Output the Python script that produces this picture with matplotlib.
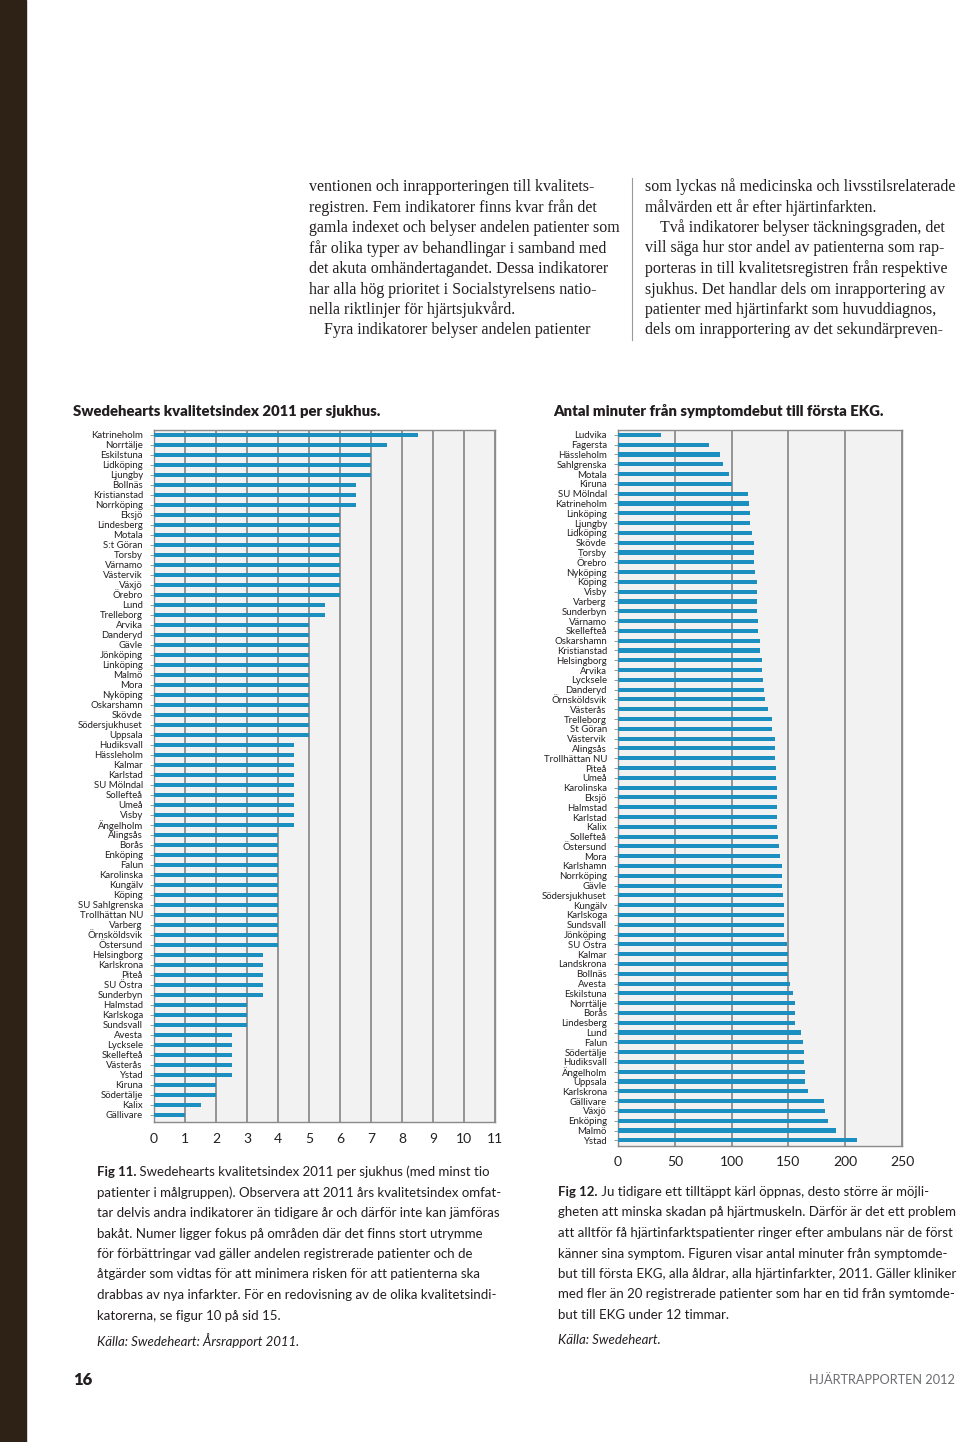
"""Page 16 of Hjärtrapporten 2012: two hospital bar charts with body text and captions."""

import matplotlib.pyplot as plt
from matplotlib.lines import Line2D
from matplotlib.patches import Rectangle

W, H = 960, 1442

# Fig 11 - Swedehearts kvalitetsindex 2011 per sjukhus
idx_names = [
    "Katrineholm", "Norrtälje", "Eskilstuna", "Lidköping", "Ljungby", "Bollnäs",
    "Kristianstad", "Norrköping", "Eksjö", "Lindesberg", "Motala", "S:t Göran",
    "Torsby", "Värnamo", "Västervik", "Växjö", "Örebro", "Lund", "Trelleborg",
    "Arvika", "Danderyd", "Gävle", "Jönköping", "Linköping", "Malmö", "Mora",
    "Nyköping", "Oskarshamn", "Skövde", "Södersjukhuset", "Uppsala", "Hudiksvall",
    "Hässleholm", "Kalmar", "Karlstad", "SU Mölndal", "Sollefteå", "Umeå", "Visby",
    "Ängelholm", "Alingsås", "Borås", "Enköping", "Falun", "Karolinska", "Kungälv",
    "Köping", "SU Sahlgrenska", "Trollhättan NU", "Varberg", "Örnsköldsvik",
    "Östersund", "Helsingborg", "Karlskrona", "Piteå", "SU Östra", "Sunderbyn",
    "Halmstad", "Karlskoga", "Sundsvall", "Avesta", "Lycksele", "Skellefteå",
    "Västerås", "Ystad", "Kiruna", "Södertälje", "Kalix", "Gällivare",
]
idx_values = [
    8.5, 7.5, 7, 7, 7, 6.5, 6.5, 6.5, 6, 6, 6, 6, 6, 6, 6, 6, 6, 5.5, 5.5,
    5, 5, 5, 5, 5, 5, 5, 5, 5, 5, 5, 5, 4.5, 4.5, 4.5, 4.5, 4.5, 4.5, 4.5, 4.5,
    4.5, 4, 4, 4, 4, 4, 4, 4, 4, 4, 4, 4, 4, 3.5, 3.5, 3.5, 3.5, 3.5, 3, 3, 3,
    2.5, 2.5, 2.5, 2.5, 2.5, 2, 2, 1.5, 1,
]

# Fig 12 - Antal minuter från symptomdebut till första EKG
ekg_names = [
    "Ludvika", "Fagersta", "Hässleholm", "Sahlgrenska", "Motala", "Kiruna",
    "SU Mölndal", "Katrineholm", "Linköping", "Ljungby", "Lidköping", "Skövde",
    "Torsby", "Örebro", "Nyköping", "Köping", "Visby", "Varberg", "Sunderbyn",
    "Värnamo", "Skellefteå", "Oskarshamn", "Kristianstad", "Helsingborg", "Arvika",
    "Lycksele", "Danderyd", "Örnsköldsvik", "Västerås", "Trelleborg", "St Göran",
    "Västervik", "Alingsås", "Trollhättan NU", "Piteå", "Umeå", "Karolinska",
    "Eksjö", "Halmstad", "Karlstad", "Kalix", "Sollefteå", "Östersund", "Mora",
    "Karlshamn", "Norrköping", "Gävle", "Södersjukhuset", "Kungälv", "Karlskoga",
    "Sundsvall", "Jönköping", "SU Östra", "Kalmar", "Landskrona", "Bollnäs",
    "Avesta", "Eskilstuna", "Norrtälje", "Borås", "Lindesberg", "Lund", "Falun",
    "Södertälje", "Hudiksvall", "Ängelholm", "Uppsala", "Karlskrona", "Gällivare",
    "Växjö", "Enköping", "Malmö", "Ystad",
]
ekg_minutes = [
    38, 80, 90, 92, 98, 100, 114, 115, 116, 116.5, 118, 120, 120, 120, 121, 122,
    122, 122, 122, 123, 123, 125, 125, 127, 127, 128, 128.5, 129, 132, 135.5, 136,
    138, 138, 138, 139, 139.5, 140, 140, 140, 140, 140, 141, 142, 143, 144, 144.5,
    144.5, 145.5, 146, 146, 146, 146.5, 149, 149.5, 150, 150, 151, 154, 156, 156,
    156, 161, 163, 164, 164, 164.5, 165, 167, 181, 182, 185, 192, 210,
]

body_left = [
    "ventionen och inrapporteringen till kvalitets-",
    "registren. Fem indikatorer finns kvar från det",
    "gamla indexet och belyser andelen patienter som",
    "får olika typer av behandlingar i samband med",
    "det akuta omhändertagandet. Dessa indikatorer",
    "har alla hög prioritet i Socialstyrelsens natio-",
    "nella riktlinjer för hjärtsjukvård.",
    "Fyra indikatorer belyser andelen patienter",
]
body_right = [
    "som lyckas nå medicinska och livsstilsrelaterade",
    "målvärden ett år efter hjärtinfarkten.",
    "Två indikatorer belyser täckningsgraden, det",
    "vill säga hur stor andel av patienterna som rap-",
    "porteras in till kvalitetsregistren från respektive",
    "sjukhus. Det handlar dels om inrapportering av",
    "patienter med hjärtinfarkt som huvuddiagnos,",
    "dels om inrapportering av det sekundärpreven-",
]
cap11 = [
    " Swedehearts kvalitetsindex 2011 per sjukhus (med minst tio",
    "patienter i målgruppen). Observera att 2011 års kvalitetsindex omfat-",
    "tar delvis andra indikatorer än tidigare år och därför inte kan jämföras",
    "bakåt. Numer ligger fokus på områden där det finns stort utrymme",
    "för förbättringar vad gäller andelen registrerade patienter och de",
    "åtgärder som vidtas för att minimera risken för att patienterna ska",
    "drabbas av nya infarkter. För en redovisning av de olika kvalitetsindi-",
    "katorerna, se figur 10 på sid 15.",
]
cap12 = [
    " Ju tidigare ett tilltäppt kärl öppnas, desto större är möjli-",
    "gheten att minska skadan på hjärtmuskeln. Därför är det ett problem",
    "att alltför få hjärtinfarktspatienter ringer efter ambulans när de först",
    "känner sina symptom. Figuren visar antal minuter från symptomde-",
    "but till första EKG, alla åldrar, alla hjärtinfarkter, 2011. Gäller kliniker",
    "med fler än 20 registrerade patienter som har en tid från symtomde-",
    "but till EKG under 12 timmar.",
]

BAR = "#1b8fc0"
INK = "#231f20"
SANS = ["Lato", "DejaVu Sans"]
SERIF = ["Liberation Serif", "DejaVu Serif"]


def fx(x):
    return x / W


def fy(y):
    return 1 - y / H


def axes_px(fig, left, top, right, bottom):
    return fig.add_axes([fx(left), fy(bottom), (right - left) / W, (bottom - top) / H])


def style_bars(ax, names, pad_x):
    ax.set_facecolor("#f2f2f2")
    ax.set_axisbelow(True)
    ax.xaxis.grid(True, color="#7a7a7a", linewidth=1.1)
    for s in ax.spines.values():
        s.set_color("#8a8a8a")
        s.set_linewidth(1.0)
    ax.set_yticks(range(len(names)))
    ax.set_yticklabels(names, fontsize=6.9, family=SANS, color=INK)
    ax.tick_params(axis="y", length=3, width=0.7, color="#999999", pad=5)
    ax.tick_params(axis="x", length=0, pad=pad_x, labelsize=10, labelcolor=INK)
    for lab in ax.get_xticklabels():
        lab.set_family(SANS)


fig = plt.figure(figsize=(9.6, 14.42), dpi=100, facecolor="white")

# dark page edge
fig.patches.append(Rectangle((0, 0), fx(26), 1, transform=fig.transFigure,
                             color="#2e2216", zorder=0))

# body text in two columns
for i, line in enumerate(body_left):
    x = 324 if i == 7 else 309
    fig.text(fx(x), fy(187 + i * 20.5), line, fontsize=11.5, family=SERIF,
             color=INK, va="center")
for i, line in enumerate(body_right):
    x = 660 if i == 2 else 645
    fig.text(fx(x), fy(187 + i * 20.5), line, fontsize=11.5, family=SERIF,
             color=INK, va="center")
fig.add_artist(Line2D([fx(632), fx(632)], [fy(178), fy(340)], color="#999999",
                      linewidth=0.8, transform=fig.transFigure))

# chart titles
fig.text(fx(73), fy(411), "Swedehearts kvalitetsindex 2011 per sjukhus.",
         fontsize=10.7, fontweight="heavy", family=SANS, color=INK, va="center")
fig.text(fx(553), fy(411), "Antal minuter från symptomdebut till första EKG.",
         fontsize=10.7, fontweight="heavy", family=SANS, color=INK, va="center")

# Fig 11 chart
ax1 = axes_px(fig, 154, 430, 495, 1122)
ax1.barh(range(len(idx_names)), idx_values, height=0.45, color=BAR, zorder=3)
ax1.set_xlim(0, 11)
ax1.set_xticks(range(12))
ax1.set_ylim(len(idx_names) - 0.3, -0.5)
style_bars(ax1, idx_names, 8)

# Fig 12 chart
ax2 = axes_px(fig, 618, 430, 902, 1146)
ax2.barh(range(len(ekg_names)), ekg_minutes, height=0.42, color=BAR, zorder=3)
ax2.set_xlim(0, 250)
ax2.set_xticks(range(0, 251, 50))
ax2.set_ylim(len(ekg_names) - 0.42, -0.5)
style_bars(ax2, ekg_names, 7)

# captions
renderer = fig.canvas.get_renderer()


def caption(x, y0, step, label, lines, source, src_y):
    t = fig.text(fx(x), fy(y0), label, fontsize=9.5, fontweight="bold",
                 family=SANS, color=INK, va="center")
    w = t.get_window_extent(renderer).width
    for i, line in enumerate(lines):
        xx = x + w if i == 0 else x
        fig.text(fx(xx), fy(y0 + i * step), line, fontsize=9.5, family=SANS,
                 color=INK, va="center")
    fig.text(fx(x), fy(src_y), source, fontsize=9.5, style="italic",
             family=SANS, color=INK, va="center")


caption(97, 1172, 20.5, "Fig 11.", cap11, "Källa: Swedeheart: Årsrapport 2011.", 1341)
caption(558, 1192, 20.5, "Fig 12.", cap12, "Källa: Swedeheart.", 1340)

# folio
fig.text(fx(73), fy(1380), "16", fontsize=12, fontweight="heavy", family=SANS,
         color=INK, va="center")
fig.text(fx(955), fy(1380), "HJÄRTRAPPORTEN 2012", fontsize=9.2, family=SANS,
         color="#6d6e71", va="center", ha="right")

fig.savefig("out.png", dpi=100, facecolor="white")
